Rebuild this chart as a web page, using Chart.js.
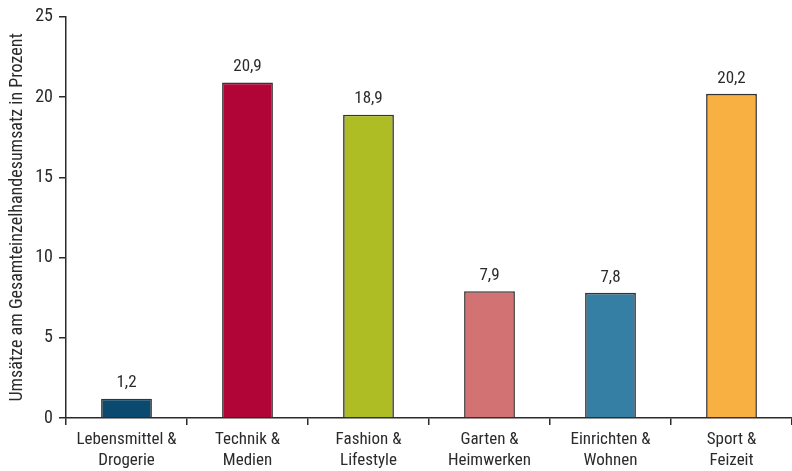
<!DOCTYPE html>
<html>
<head>
<meta charset="utf-8">
<script src="https://cdn.jsdelivr.net/npm/chart.js@4/dist/chart.umd.min.js"></script>
<style>
  html, body { margin: 0; padding: 0; background: #fff; }
  #wrap { width: 792px; height: 471px; }
</style>
</head>
<body>
<div id="wrap"><canvas id="chart" width="792" height="471"></canvas></div>
<script>
const categories = [
    ["Lebensmittel &", "Drogerie"],
    ["Technik &", "Medien"],
    ["Fashion &", "Lifestyle"],
    ["Garten &", "Heimwerken"],
    ["Einrichten &", "Wohnen"],
    ["Sport &", "Feizeit"]
];
const shares = [1.2, 20.9, 18.9, 7.9, 7.8, 20.2];
const barColors = ["#0b4a6f", "#b10538", "#aebd24", "#d27272", "#367fa4", "#f9b042"];
const yTicks = [0, 5, 10, 15, 20, 25];
const yTitle = "Umsätze am Gesamteinzelhandesumsatz in Prozent";

const FONT = "'Roboto Condensed', 'Liberation Sans Narrow', 'DejaVu Sans Condensed', sans-serif";
const INK = "#2b2b2b";
const SIZE = 17;

// writes the value (German decimal comma) above each bar
const valueLabels = {
    id: "valueLabels",
    afterDatasetsDraw(chart) {
        const ctx = chart.ctx;
        const meta = chart.getDatasetMeta(0);
        ctx.save();
        ctx.font = SIZE + "px " + FONT;
        ctx.fillStyle = INK;
        ctx.textAlign = "center";
        ctx.textBaseline = "bottom";
        meta.data.forEach((bar, i) => {
            ctx.fillText(shares[i].toFixed(1).replace(".", ","), bar.x, bar.y - 7);
        });
        ctx.restore();
    }
};

new Chart(document.getElementById("chart").getContext("2d"), {
    type: "bar",
    data: {
        labels: categories,
        datasets: [{
            data: shares,
            backgroundColor: barColors,
            borderColor: "#333333",
            borderWidth: 1.6,
            barPercentage: 0.42,
            categoryPercentage: 1
        }]
    },
    options: {
        responsive: false,
        animation: false,
        layout: {padding: {top: 15, right: 0, left: 0, bottom: 0}},
        plugins: {
            legend: {display: false},
            tooltip: {enabled: false}
        },
        scales: {
            x: {
                offset: true,
                grid: {
                    offset: true,
                    drawOnChartArea: false,
                    drawTicks: true,
                    tickLength: 7,
                    color: INK,
                    lineWidth: 1.5
                },
                border: {display: true, color: INK, width: 1.5},
                ticks: {
                    color: INK,
                    font: {family: FONT, size: SIZE, lineHeight: 1.2},
                    padding: 5,
                    maxRotation: 0,
                    autoSkip: false
                },
                afterFit: (axis) => { axis.height = 53; }
            },
            y: {
                min: 0,
                max: 25,
                afterBuildTicks: (axis) => { axis.ticks = yTicks.map(v => ({value: v})); },
                grid: {
                    drawOnChartArea: false,
                    drawTicks: true,
                    tickLength: 7,
                    color: INK,
                    lineWidth: 1.5
                },
                border: {display: true, color: INK, width: 1.5},
                ticks: {
                    color: INK,
                    font: {family: FONT, size: SIZE + 1},
                    padding: 6
                },
                title: {
                    display: true,
                    text: yTitle,
                    color: INK,
                    font: {family: FONT, size: 18},
                    padding: {top: 7, bottom: 0}
                },
                afterFit: (axis) => { axis.width = 66; }
            }
        }
    },
    plugins: [valueLabels]
});
</script>
</body>
</html>
